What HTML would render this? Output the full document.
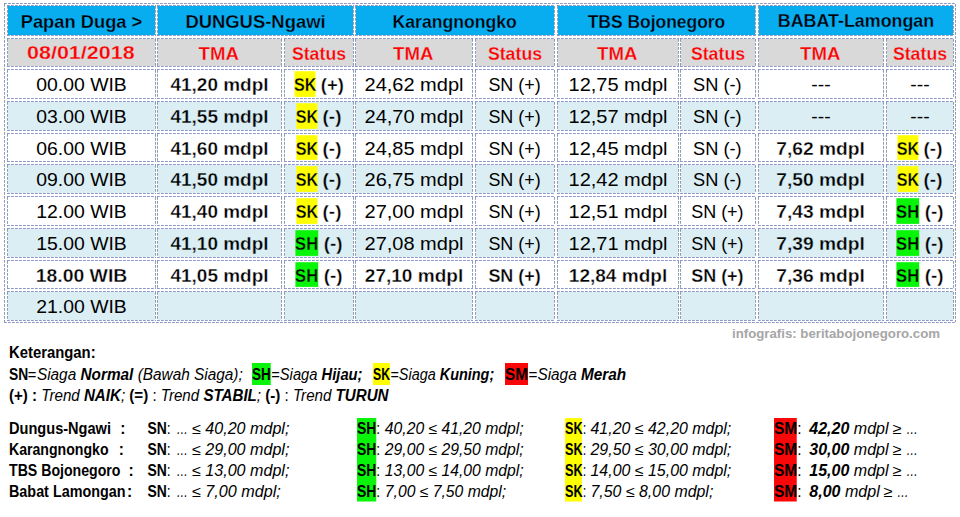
<!DOCTYPE html>
<html lang="id"><head><meta charset="utf-8"><title>Papan Duga TMA Bengawan Solo</title>
<style>
html,body{margin:0;padding:0;background:#fff;}
body{width:960px;height:517px;overflow:hidden;}
svg{display:block;font-family:"Liberation Sans",sans-serif;fill:#000;}
.bh,.bv{fill:none;stroke-width:1;stroke-dasharray:2.8 1.2;}
.bh{stroke:#8c97c6;} .bv{stroke:#8e9ab4;}
.t{font-size:17.9px;}
.h{font-size:18.4px;}
.b{font-weight:700;}
.t.b{stroke-width:0.3;stroke:#fff;}
.t.b.oB{stroke:#08adf0;} .t.b.oG{stroke:#d9d9d9;} .t.b.oL{stroke:#dbeef4;} .t.b.oY{stroke:#ffff00;} .t.b.oN{stroke:#08f408;}
.i{font-style:italic;}
.bi{font-weight:700;font-style:italic;}
.s{font-size:15.6px;}
.wm{font-size:13.4px;font-weight:700;fill:#a6a6a6;}
</style></head>
<body>
<svg width="960" height="517" viewBox="0 0 960 517">
<path class="bh" d="M4 3.5H956M4 322.5H956"/><path class="bv" d="M4.5 4V322M955.5 4V322"/>
<rect x="8.0" y="6.0" width="147.0" height="29.0" fill="#08adf0"/>
<path class="bh" d="M7.0 5.5H156.0M7.0 35.5H156.0"/><path class="bv" d="M7.5 6.0V35.0M155.5 6.0V35.0"/>
<rect x="158.0" y="6.0" width="195.0" height="29.0" fill="#08adf0"/>
<path class="bh" d="M157.0 5.5H354.0M157.0 35.5H354.0"/><path class="bv" d="M157.5 6.0V35.0M353.5 6.0V35.0"/>
<rect x="356.0" y="6.0" width="198.0" height="29.0" fill="#08adf0"/>
<path class="bh" d="M355.0 5.5H555.0M355.0 35.5H555.0"/><path class="bv" d="M355.5 6.0V35.0M554.5 6.0V35.0"/>
<rect x="558.0" y="6.0" width="197.0" height="29.0" fill="#08adf0"/>
<path class="bh" d="M557.0 5.5H756.0M557.0 35.5H756.0"/><path class="bv" d="M557.5 6.0V35.0M755.5 6.0V35.0"/>
<rect x="759.0" y="6.0" width="194.0" height="29.0" fill="#08adf0"/>
<path class="bh" d="M758.0 5.5H954.0M758.0 35.5H954.0"/><path class="bv" d="M758.5 6.0V35.0M953.5 6.0V35.0"/>
<rect x="8.0" y="39.0" width="147.0" height="27.0" fill="#d9d9d9"/>
<path class="bh" d="M7.0 38.5H156.0M7.0 66.5H156.0"/><path class="bv" d="M7.5 39.0V66.0M155.5 39.0V66.0"/>
<rect x="158.0" y="39.0" width="123.0" height="27.0" fill="#d9d9d9"/>
<path class="bh" d="M157.0 38.5H282.0M157.0 66.5H282.0"/><path class="bv" d="M157.5 39.0V66.0M281.5 39.0V66.0"/>
<rect x="285.0" y="39.0" width="68.0" height="27.0" fill="#d9d9d9"/>
<path class="bh" d="M284.0 38.5H354.0M284.0 66.5H354.0"/><path class="bv" d="M284.5 39.0V66.0M353.5 39.0V66.0"/>
<rect x="356.0" y="39.0" width="116.0" height="27.0" fill="#d9d9d9"/>
<path class="bh" d="M355.0 38.5H473.0M355.0 66.5H473.0"/><path class="bv" d="M355.5 39.0V66.0M472.5 39.0V66.0"/>
<rect x="476.0" y="39.0" width="78.0" height="27.0" fill="#d9d9d9"/>
<path class="bh" d="M475.0 38.5H555.0M475.0 66.5H555.0"/><path class="bv" d="M475.5 39.0V66.0M554.5 39.0V66.0"/>
<rect x="558.0" y="39.0" width="120.0" height="27.0" fill="#d9d9d9"/>
<path class="bh" d="M557.0 38.5H679.0M557.0 66.5H679.0"/><path class="bv" d="M557.5 39.0V66.0M678.5 39.0V66.0"/>
<rect x="681.0" y="39.0" width="74.0" height="27.0" fill="#d9d9d9"/>
<path class="bh" d="M680.0 38.5H756.0M680.0 66.5H756.0"/><path class="bv" d="M680.5 39.0V66.0M755.5 39.0V66.0"/>
<rect x="759.0" y="39.0" width="124.0" height="27.0" fill="#d9d9d9"/>
<path class="bh" d="M758.0 38.5H884.0M758.0 66.5H884.0"/><path class="bv" d="M758.5 39.0V66.0M883.5 39.0V66.0"/>
<rect x="887.0" y="39.0" width="66.0" height="27.0" fill="#d9d9d9"/>
<path class="bh" d="M886.0 38.5H954.0M886.0 66.5H954.0"/><path class="bv" d="M886.5 39.0V66.0M953.5 39.0V66.0"/>
<path class="bh" d="M7.0 69.5H156.0M7.0 98.5H156.0"/><path class="bv" d="M7.5 70.0V98.0M155.5 70.0V98.0"/>
<path class="bh" d="M157.0 69.5H282.0M157.0 98.5H282.0"/><path class="bv" d="M157.5 70.0V98.0M281.5 70.0V98.0"/>
<path class="bh" d="M284.0 69.5H354.0M284.0 98.5H354.0"/><path class="bv" d="M284.5 70.0V98.0M353.5 70.0V98.0"/>
<path class="bh" d="M355.0 69.5H473.0M355.0 98.5H473.0"/><path class="bv" d="M355.5 70.0V98.0M472.5 70.0V98.0"/>
<path class="bh" d="M475.0 69.5H555.0M475.0 98.5H555.0"/><path class="bv" d="M475.5 70.0V98.0M554.5 70.0V98.0"/>
<path class="bh" d="M557.0 69.5H679.0M557.0 98.5H679.0"/><path class="bv" d="M557.5 70.0V98.0M678.5 70.0V98.0"/>
<path class="bh" d="M680.0 69.5H756.0M680.0 98.5H756.0"/><path class="bv" d="M680.5 70.0V98.0M755.5 70.0V98.0"/>
<path class="bh" d="M758.0 69.5H884.0M758.0 98.5H884.0"/><path class="bv" d="M758.5 70.0V98.0M883.5 70.0V98.0"/>
<path class="bh" d="M886.0 69.5H954.0M886.0 98.5H954.0"/><path class="bv" d="M886.5 70.0V98.0M953.5 70.0V98.0"/>
<rect x="8.0" y="102.0" width="147.0" height="28.0" fill="#dbeef4"/>
<path class="bh" d="M7.0 101.5H156.0M7.0 130.5H156.0"/><path class="bv" d="M7.5 102.0V130.0M155.5 102.0V130.0"/>
<rect x="158.0" y="102.0" width="123.0" height="28.0" fill="#dbeef4"/>
<path class="bh" d="M157.0 101.5H282.0M157.0 130.5H282.0"/><path class="bv" d="M157.5 102.0V130.0M281.5 102.0V130.0"/>
<rect x="285.0" y="102.0" width="68.0" height="28.0" fill="#dbeef4"/>
<path class="bh" d="M284.0 101.5H354.0M284.0 130.5H354.0"/><path class="bv" d="M284.5 102.0V130.0M353.5 102.0V130.0"/>
<rect x="356.0" y="102.0" width="116.0" height="28.0" fill="#dbeef4"/>
<path class="bh" d="M355.0 101.5H473.0M355.0 130.5H473.0"/><path class="bv" d="M355.5 102.0V130.0M472.5 102.0V130.0"/>
<rect x="476.0" y="102.0" width="78.0" height="28.0" fill="#dbeef4"/>
<path class="bh" d="M475.0 101.5H555.0M475.0 130.5H555.0"/><path class="bv" d="M475.5 102.0V130.0M554.5 102.0V130.0"/>
<rect x="558.0" y="102.0" width="120.0" height="28.0" fill="#dbeef4"/>
<path class="bh" d="M557.0 101.5H679.0M557.0 130.5H679.0"/><path class="bv" d="M557.5 102.0V130.0M678.5 102.0V130.0"/>
<rect x="681.0" y="102.0" width="74.0" height="28.0" fill="#dbeef4"/>
<path class="bh" d="M680.0 101.5H756.0M680.0 130.5H756.0"/><path class="bv" d="M680.5 102.0V130.0M755.5 102.0V130.0"/>
<rect x="759.0" y="102.0" width="124.0" height="28.0" fill="#dbeef4"/>
<path class="bh" d="M758.0 101.5H884.0M758.0 130.5H884.0"/><path class="bv" d="M758.5 102.0V130.0M883.5 102.0V130.0"/>
<rect x="887.0" y="102.0" width="66.0" height="28.0" fill="#dbeef4"/>
<path class="bh" d="M886.0 101.5H954.0M886.0 130.5H954.0"/><path class="bv" d="M886.5 102.0V130.0M953.5 102.0V130.0"/>
<path class="bh" d="M7.0 133.5H156.0M7.0 161.5H156.0"/><path class="bv" d="M7.5 134.0V161.0M155.5 134.0V161.0"/>
<path class="bh" d="M157.0 133.5H282.0M157.0 161.5H282.0"/><path class="bv" d="M157.5 134.0V161.0M281.5 134.0V161.0"/>
<path class="bh" d="M284.0 133.5H354.0M284.0 161.5H354.0"/><path class="bv" d="M284.5 134.0V161.0M353.5 134.0V161.0"/>
<path class="bh" d="M355.0 133.5H473.0M355.0 161.5H473.0"/><path class="bv" d="M355.5 134.0V161.0M472.5 134.0V161.0"/>
<path class="bh" d="M475.0 133.5H555.0M475.0 161.5H555.0"/><path class="bv" d="M475.5 134.0V161.0M554.5 134.0V161.0"/>
<path class="bh" d="M557.0 133.5H679.0M557.0 161.5H679.0"/><path class="bv" d="M557.5 134.0V161.0M678.5 134.0V161.0"/>
<path class="bh" d="M680.0 133.5H756.0M680.0 161.5H756.0"/><path class="bv" d="M680.5 134.0V161.0M755.5 134.0V161.0"/>
<path class="bh" d="M758.0 133.5H884.0M758.0 161.5H884.0"/><path class="bv" d="M758.5 134.0V161.0M883.5 134.0V161.0"/>
<path class="bh" d="M886.0 133.5H954.0M886.0 161.5H954.0"/><path class="bv" d="M886.5 134.0V161.0M953.5 134.0V161.0"/>
<rect x="8.0" y="165.0" width="147.0" height="28.0" fill="#dbeef4"/>
<path class="bh" d="M7.0 164.5H156.0M7.0 193.5H156.0"/><path class="bv" d="M7.5 165.0V193.0M155.5 165.0V193.0"/>
<rect x="158.0" y="165.0" width="123.0" height="28.0" fill="#dbeef4"/>
<path class="bh" d="M157.0 164.5H282.0M157.0 193.5H282.0"/><path class="bv" d="M157.5 165.0V193.0M281.5 165.0V193.0"/>
<rect x="285.0" y="165.0" width="68.0" height="28.0" fill="#dbeef4"/>
<path class="bh" d="M284.0 164.5H354.0M284.0 193.5H354.0"/><path class="bv" d="M284.5 165.0V193.0M353.5 165.0V193.0"/>
<rect x="356.0" y="165.0" width="116.0" height="28.0" fill="#dbeef4"/>
<path class="bh" d="M355.0 164.5H473.0M355.0 193.5H473.0"/><path class="bv" d="M355.5 165.0V193.0M472.5 165.0V193.0"/>
<rect x="476.0" y="165.0" width="78.0" height="28.0" fill="#dbeef4"/>
<path class="bh" d="M475.0 164.5H555.0M475.0 193.5H555.0"/><path class="bv" d="M475.5 165.0V193.0M554.5 165.0V193.0"/>
<rect x="558.0" y="165.0" width="120.0" height="28.0" fill="#dbeef4"/>
<path class="bh" d="M557.0 164.5H679.0M557.0 193.5H679.0"/><path class="bv" d="M557.5 165.0V193.0M678.5 165.0V193.0"/>
<rect x="681.0" y="165.0" width="74.0" height="28.0" fill="#dbeef4"/>
<path class="bh" d="M680.0 164.5H756.0M680.0 193.5H756.0"/><path class="bv" d="M680.5 165.0V193.0M755.5 165.0V193.0"/>
<rect x="759.0" y="165.0" width="124.0" height="28.0" fill="#dbeef4"/>
<path class="bh" d="M758.0 164.5H884.0M758.0 193.5H884.0"/><path class="bv" d="M758.5 165.0V193.0M883.5 165.0V193.0"/>
<rect x="887.0" y="165.0" width="66.0" height="28.0" fill="#dbeef4"/>
<path class="bh" d="M886.0 164.5H954.0M886.0 193.5H954.0"/><path class="bv" d="M886.5 165.0V193.0M953.5 165.0V193.0"/>
<path class="bh" d="M7.0 196.5H156.0M7.0 225.5H156.0"/><path class="bv" d="M7.5 197.0V225.0M155.5 197.0V225.0"/>
<path class="bh" d="M157.0 196.5H282.0M157.0 225.5H282.0"/><path class="bv" d="M157.5 197.0V225.0M281.5 197.0V225.0"/>
<path class="bh" d="M284.0 196.5H354.0M284.0 225.5H354.0"/><path class="bv" d="M284.5 197.0V225.0M353.5 197.0V225.0"/>
<path class="bh" d="M355.0 196.5H473.0M355.0 225.5H473.0"/><path class="bv" d="M355.5 197.0V225.0M472.5 197.0V225.0"/>
<path class="bh" d="M475.0 196.5H555.0M475.0 225.5H555.0"/><path class="bv" d="M475.5 197.0V225.0M554.5 197.0V225.0"/>
<path class="bh" d="M557.0 196.5H679.0M557.0 225.5H679.0"/><path class="bv" d="M557.5 197.0V225.0M678.5 197.0V225.0"/>
<path class="bh" d="M680.0 196.5H756.0M680.0 225.5H756.0"/><path class="bv" d="M680.5 197.0V225.0M755.5 197.0V225.0"/>
<path class="bh" d="M758.0 196.5H884.0M758.0 225.5H884.0"/><path class="bv" d="M758.5 197.0V225.0M883.5 197.0V225.0"/>
<path class="bh" d="M886.0 196.5H954.0M886.0 225.5H954.0"/><path class="bv" d="M886.5 197.0V225.0M953.5 197.0V225.0"/>
<rect x="8.0" y="229.0" width="147.0" height="28.0" fill="#dbeef4"/>
<path class="bh" d="M7.0 228.5H156.0M7.0 257.5H156.0"/><path class="bv" d="M7.5 229.0V257.0M155.5 229.0V257.0"/>
<rect x="158.0" y="229.0" width="123.0" height="28.0" fill="#dbeef4"/>
<path class="bh" d="M157.0 228.5H282.0M157.0 257.5H282.0"/><path class="bv" d="M157.5 229.0V257.0M281.5 229.0V257.0"/>
<rect x="285.0" y="229.0" width="68.0" height="28.0" fill="#dbeef4"/>
<path class="bh" d="M284.0 228.5H354.0M284.0 257.5H354.0"/><path class="bv" d="M284.5 229.0V257.0M353.5 229.0V257.0"/>
<rect x="356.0" y="229.0" width="116.0" height="28.0" fill="#dbeef4"/>
<path class="bh" d="M355.0 228.5H473.0M355.0 257.5H473.0"/><path class="bv" d="M355.5 229.0V257.0M472.5 229.0V257.0"/>
<rect x="476.0" y="229.0" width="78.0" height="28.0" fill="#dbeef4"/>
<path class="bh" d="M475.0 228.5H555.0M475.0 257.5H555.0"/><path class="bv" d="M475.5 229.0V257.0M554.5 229.0V257.0"/>
<rect x="558.0" y="229.0" width="120.0" height="28.0" fill="#dbeef4"/>
<path class="bh" d="M557.0 228.5H679.0M557.0 257.5H679.0"/><path class="bv" d="M557.5 229.0V257.0M678.5 229.0V257.0"/>
<rect x="681.0" y="229.0" width="74.0" height="28.0" fill="#dbeef4"/>
<path class="bh" d="M680.0 228.5H756.0M680.0 257.5H756.0"/><path class="bv" d="M680.5 229.0V257.0M755.5 229.0V257.0"/>
<rect x="759.0" y="229.0" width="124.0" height="28.0" fill="#dbeef4"/>
<path class="bh" d="M758.0 228.5H884.0M758.0 257.5H884.0"/><path class="bv" d="M758.5 229.0V257.0M883.5 229.0V257.0"/>
<rect x="887.0" y="229.0" width="66.0" height="28.0" fill="#dbeef4"/>
<path class="bh" d="M886.0 228.5H954.0M886.0 257.5H954.0"/><path class="bv" d="M886.5 229.0V257.0M953.5 229.0V257.0"/>
<path class="bh" d="M7.0 260.5H156.0M7.0 288.5H156.0"/><path class="bv" d="M7.5 261.0V288.0M155.5 261.0V288.0"/>
<path class="bh" d="M157.0 260.5H282.0M157.0 288.5H282.0"/><path class="bv" d="M157.5 261.0V288.0M281.5 261.0V288.0"/>
<path class="bh" d="M284.0 260.5H354.0M284.0 288.5H354.0"/><path class="bv" d="M284.5 261.0V288.0M353.5 261.0V288.0"/>
<path class="bh" d="M355.0 260.5H473.0M355.0 288.5H473.0"/><path class="bv" d="M355.5 261.0V288.0M472.5 261.0V288.0"/>
<path class="bh" d="M475.0 260.5H555.0M475.0 288.5H555.0"/><path class="bv" d="M475.5 261.0V288.0M554.5 261.0V288.0"/>
<path class="bh" d="M557.0 260.5H679.0M557.0 288.5H679.0"/><path class="bv" d="M557.5 261.0V288.0M678.5 261.0V288.0"/>
<path class="bh" d="M680.0 260.5H756.0M680.0 288.5H756.0"/><path class="bv" d="M680.5 261.0V288.0M755.5 261.0V288.0"/>
<path class="bh" d="M758.0 260.5H884.0M758.0 288.5H884.0"/><path class="bv" d="M758.5 261.0V288.0M883.5 261.0V288.0"/>
<path class="bh" d="M886.0 260.5H954.0M886.0 288.5H954.0"/><path class="bv" d="M886.5 261.0V288.0M953.5 261.0V288.0"/>
<rect x="8.0" y="292.0" width="147.0" height="28.0" fill="#dbeef4"/>
<path class="bh" d="M7.0 291.5H156.0M7.0 320.5H156.0"/><path class="bv" d="M7.5 292.0V320.0M155.5 292.0V320.0"/>
<rect x="158.0" y="292.0" width="123.0" height="28.0" fill="#dbeef4"/>
<path class="bh" d="M157.0 291.5H282.0M157.0 320.5H282.0"/><path class="bv" d="M157.5 292.0V320.0M281.5 292.0V320.0"/>
<rect x="285.0" y="292.0" width="68.0" height="28.0" fill="#dbeef4"/>
<path class="bh" d="M284.0 291.5H354.0M284.0 320.5H354.0"/><path class="bv" d="M284.5 292.0V320.0M353.5 292.0V320.0"/>
<rect x="356.0" y="292.0" width="116.0" height="28.0" fill="#dbeef4"/>
<path class="bh" d="M355.0 291.5H473.0M355.0 320.5H473.0"/><path class="bv" d="M355.5 292.0V320.0M472.5 292.0V320.0"/>
<rect x="476.0" y="292.0" width="78.0" height="28.0" fill="#dbeef4"/>
<path class="bh" d="M475.0 291.5H555.0M475.0 320.5H555.0"/><path class="bv" d="M475.5 292.0V320.0M554.5 292.0V320.0"/>
<rect x="558.0" y="292.0" width="120.0" height="28.0" fill="#dbeef4"/>
<path class="bh" d="M557.0 291.5H679.0M557.0 320.5H679.0"/><path class="bv" d="M557.5 292.0V320.0M678.5 292.0V320.0"/>
<rect x="681.0" y="292.0" width="74.0" height="28.0" fill="#dbeef4"/>
<path class="bh" d="M680.0 291.5H756.0M680.0 320.5H756.0"/><path class="bv" d="M680.5 292.0V320.0M755.5 292.0V320.0"/>
<rect x="759.0" y="292.0" width="124.0" height="28.0" fill="#dbeef4"/>
<path class="bh" d="M758.0 291.5H884.0M758.0 320.5H884.0"/><path class="bv" d="M758.5 292.0V320.0M883.5 292.0V320.0"/>
<rect x="887.0" y="292.0" width="66.0" height="28.0" fill="#dbeef4"/>
<path class="bh" d="M886.0 291.5H954.0M886.0 320.5H954.0"/><path class="bv" d="M886.5 292.0V320.0M953.5 292.0V320.0"/>
<text class="t b h oB" x="81.50" y="27.70" text-anchor="middle" textLength="121.6" lengthAdjust="spacingAndGlyphs">Papan Duga &gt;</text>
<text class="t b h oB" x="255.50" y="27.70" text-anchor="middle" textLength="140.2" lengthAdjust="spacingAndGlyphs">DUNGUS-Ngawi</text>
<text class="t b h oB" x="454.70" y="27.70" text-anchor="middle" textLength="124.4" lengthAdjust="spacingAndGlyphs">Karangnongko</text>
<text class="t b h oB" x="656.50" y="27.70" text-anchor="middle" textLength="137.6" lengthAdjust="spacingAndGlyphs">TBS Bojonegoro</text>
<text class="t b h oB" x="856.00" y="26.70" text-anchor="middle" textLength="156.4" lengthAdjust="spacingAndGlyphs">BABAT-Lamongan</text>
<text class="t b h oG" x="80.80" y="59.40" text-anchor="middle" textLength="107.6" lengthAdjust="spacingAndGlyphs" fill="#ff0000">08/01/2018</text>
<text class="t b h oG" x="218.70" y="59.70" text-anchor="middle" textLength="40.4" lengthAdjust="spacingAndGlyphs" fill="#ff0000">TMA</text>
<text class="t b h oG" x="319.00" y="59.70" text-anchor="middle" textLength="54.2" lengthAdjust="spacingAndGlyphs" fill="#ff0000">Status</text>
<text class="t b h oG" x="413.20" y="59.70" text-anchor="middle" textLength="40.4" lengthAdjust="spacingAndGlyphs" fill="#ff0000">TMA</text>
<text class="t b h oG" x="515.00" y="59.70" text-anchor="middle" textLength="54.2" lengthAdjust="spacingAndGlyphs" fill="#ff0000">Status</text>
<text class="t b h oG" x="617.20" y="59.70" text-anchor="middle" textLength="40.4" lengthAdjust="spacingAndGlyphs" fill="#ff0000">TMA</text>
<text class="t b h oG" x="718.00" y="59.70" text-anchor="middle" textLength="54.2" lengthAdjust="spacingAndGlyphs" fill="#ff0000">Status</text>
<text class="t b h oG" x="820.20" y="59.70" text-anchor="middle" textLength="40.4" lengthAdjust="spacingAndGlyphs" fill="#ff0000">TMA</text>
<text class="t b h oG" x="920.00" y="59.70" text-anchor="middle" textLength="54.2" lengthAdjust="spacingAndGlyphs" fill="#ff0000">Status</text>
<text class="t " x="81.50" y="90.70" text-anchor="middle" textLength="90.6" lengthAdjust="spacingAndGlyphs">00.00 WIB</text>
<text class="t b" x="219.50" y="90.70" text-anchor="middle" textLength="98" lengthAdjust="spacingAndGlyphs">41,20 mdpl</text>
<rect x="294.50" y="71.20" width="21.00" height="25.70" fill="#ffff00"/>
<text class="t b oY" x="293.90" y="90.70" textLength="22.40" lengthAdjust="spacingAndGlyphs">SK</text>
<text class="t b" x="320.80" y="90.70" textLength="23.00" lengthAdjust="spacingAndGlyphs">(+)</text>
<text class="t " x="414.00" y="90.70" text-anchor="middle" textLength="99" lengthAdjust="spacingAndGlyphs">24,62 mdpl</text>
<text class="t " x="514.60" y="90.70" text-anchor="middle" textLength="52.4" lengthAdjust="spacingAndGlyphs">SN (+)</text>
<text class="t " x="618.00" y="90.70" text-anchor="middle" textLength="99" lengthAdjust="spacingAndGlyphs">12,75 mdpl</text>
<text class="t " x="717.40" y="90.70" text-anchor="middle" textLength="48.6" lengthAdjust="spacingAndGlyphs">SN (-)</text>
<text class="t " x="821.00" y="91.40" text-anchor="middle" textLength="19.4" lengthAdjust="spacingAndGlyphs">---</text>
<text class="t " x="920.00" y="91.40" text-anchor="middle" textLength="19.4" lengthAdjust="spacingAndGlyphs">---</text>
<text class="t  oL" x="81.50" y="122.70" text-anchor="middle" textLength="90.6" lengthAdjust="spacingAndGlyphs">03.00 WIB</text>
<text class="t b oL" x="219.50" y="122.70" text-anchor="middle" textLength="98" lengthAdjust="spacingAndGlyphs">41,55 mdpl</text>
<rect x="296.40" y="103.20" width="21.00" height="25.70" fill="#ffff00"/>
<text class="t b oY" x="295.80" y="122.70" textLength="22.40" lengthAdjust="spacingAndGlyphs">SK</text>
<text class="t b oL" x="322.60" y="122.70" textLength="18.80" lengthAdjust="spacingAndGlyphs">(-)</text>
<text class="t  oL" x="414.00" y="122.70" text-anchor="middle" textLength="99" lengthAdjust="spacingAndGlyphs">24,70 mdpl</text>
<text class="t  oL" x="514.60" y="122.70" text-anchor="middle" textLength="52.4" lengthAdjust="spacingAndGlyphs">SN (+)</text>
<text class="t  oL" x="618.00" y="122.70" text-anchor="middle" textLength="99" lengthAdjust="spacingAndGlyphs">12,57 mdpl</text>
<text class="t  oL" x="717.40" y="122.70" text-anchor="middle" textLength="48.6" lengthAdjust="spacingAndGlyphs">SN (-)</text>
<text class="t  oL" x="821.00" y="123.40" text-anchor="middle" textLength="19.4" lengthAdjust="spacingAndGlyphs">---</text>
<text class="t  oL" x="920.00" y="123.40" text-anchor="middle" textLength="19.4" lengthAdjust="spacingAndGlyphs">---</text>
<text class="t " x="81.50" y="154.70" text-anchor="middle" textLength="90.6" lengthAdjust="spacingAndGlyphs">06.00 WIB</text>
<text class="t b" x="219.50" y="154.70" text-anchor="middle" textLength="98" lengthAdjust="spacingAndGlyphs">41,60 mdpl</text>
<rect x="296.40" y="135.20" width="21.00" height="24.70" fill="#ffff00"/>
<text class="t b oY" x="295.80" y="154.70" textLength="22.40" lengthAdjust="spacingAndGlyphs">SK</text>
<text class="t b" x="322.60" y="154.70" textLength="18.80" lengthAdjust="spacingAndGlyphs">(-)</text>
<text class="t " x="414.00" y="154.70" text-anchor="middle" textLength="99" lengthAdjust="spacingAndGlyphs">24,85 mdpl</text>
<text class="t " x="514.60" y="154.70" text-anchor="middle" textLength="52.4" lengthAdjust="spacingAndGlyphs">SN (+)</text>
<text class="t " x="618.00" y="154.70" text-anchor="middle" textLength="99" lengthAdjust="spacingAndGlyphs">12,45 mdpl</text>
<text class="t " x="717.40" y="154.70" text-anchor="middle" textLength="48.6" lengthAdjust="spacingAndGlyphs">SN (-)</text>
<text class="t b" x="820.60" y="154.70" text-anchor="middle" textLength="88.6" lengthAdjust="spacingAndGlyphs">7,62 mdpl</text>
<rect x="897.40" y="135.20" width="21.00" height="24.70" fill="#ffff00"/>
<text class="t b oY" x="896.80" y="154.70" textLength="22.40" lengthAdjust="spacingAndGlyphs">SK</text>
<text class="t b" x="923.60" y="154.70" textLength="18.80" lengthAdjust="spacingAndGlyphs">(-)</text>
<text class="t  oL" x="81.50" y="185.70" text-anchor="middle" textLength="90.6" lengthAdjust="spacingAndGlyphs">09.00 WIB</text>
<text class="t b oL" x="219.50" y="185.70" text-anchor="middle" textLength="98" lengthAdjust="spacingAndGlyphs">41,50 mdpl</text>
<rect x="296.40" y="166.20" width="21.00" height="25.70" fill="#ffff00"/>
<text class="t b oY" x="295.80" y="185.70" textLength="22.40" lengthAdjust="spacingAndGlyphs">SK</text>
<text class="t b oL" x="322.60" y="185.70" textLength="18.80" lengthAdjust="spacingAndGlyphs">(-)</text>
<text class="t  oL" x="414.00" y="185.70" text-anchor="middle" textLength="99" lengthAdjust="spacingAndGlyphs">26,75 mdpl</text>
<text class="t  oL" x="514.60" y="185.70" text-anchor="middle" textLength="52.4" lengthAdjust="spacingAndGlyphs">SN (+)</text>
<text class="t  oL" x="618.00" y="185.70" text-anchor="middle" textLength="99" lengthAdjust="spacingAndGlyphs">12,42 mdpl</text>
<text class="t  oL" x="717.40" y="185.70" text-anchor="middle" textLength="48.6" lengthAdjust="spacingAndGlyphs">SN (-)</text>
<text class="t b oL" x="820.60" y="185.70" text-anchor="middle" textLength="88.6" lengthAdjust="spacingAndGlyphs">7,50 mdpl</text>
<rect x="897.40" y="166.20" width="21.00" height="25.70" fill="#ffff00"/>
<text class="t b oY" x="896.80" y="185.70" textLength="22.40" lengthAdjust="spacingAndGlyphs">SK</text>
<text class="t b oL" x="923.60" y="185.70" textLength="18.80" lengthAdjust="spacingAndGlyphs">(-)</text>
<text class="t " x="81.50" y="217.70" text-anchor="middle" textLength="90.6" lengthAdjust="spacingAndGlyphs">12.00 WIB</text>
<text class="t b" x="219.50" y="217.70" text-anchor="middle" textLength="98" lengthAdjust="spacingAndGlyphs">41,40 mdpl</text>
<rect x="296.40" y="198.20" width="21.00" height="25.70" fill="#ffff00"/>
<text class="t b oY" x="295.80" y="217.70" textLength="22.40" lengthAdjust="spacingAndGlyphs">SK</text>
<text class="t b" x="322.60" y="217.70" textLength="18.80" lengthAdjust="spacingAndGlyphs">(-)</text>
<text class="t " x="414.00" y="217.70" text-anchor="middle" textLength="99" lengthAdjust="spacingAndGlyphs">27,00 mdpl</text>
<text class="t " x="514.60" y="217.70" text-anchor="middle" textLength="52.4" lengthAdjust="spacingAndGlyphs">SN (+)</text>
<text class="t " x="618.00" y="217.70" text-anchor="middle" textLength="99" lengthAdjust="spacingAndGlyphs">12,51 mdpl</text>
<text class="t " x="717.40" y="217.70" text-anchor="middle" textLength="52.4" lengthAdjust="spacingAndGlyphs">SN (+)</text>
<text class="t b" x="820.60" y="217.70" text-anchor="middle" textLength="88.6" lengthAdjust="spacingAndGlyphs">7,43 mdpl</text>
<rect x="896.40" y="198.20" width="22.80" height="25.70" fill="#08f408"/>
<text class="t b oN" x="896.10" y="217.70" textLength="23.00" lengthAdjust="spacingAndGlyphs">SH</text>
<text class="t b" x="924.80" y="217.70" textLength="18.80" lengthAdjust="spacingAndGlyphs">(-)</text>
<text class="t  oL" x="81.50" y="249.70" text-anchor="middle" textLength="90.6" lengthAdjust="spacingAndGlyphs">15.00 WIB</text>
<text class="t b oL" x="219.50" y="249.70" text-anchor="middle" textLength="98" lengthAdjust="spacingAndGlyphs">41,10 mdpl</text>
<rect x="295.40" y="230.20" width="22.80" height="25.70" fill="#08f408"/>
<text class="t b oN" x="295.10" y="249.70" textLength="23.00" lengthAdjust="spacingAndGlyphs">SH</text>
<text class="t b oL" x="323.80" y="249.70" textLength="18.80" lengthAdjust="spacingAndGlyphs">(-)</text>
<text class="t  oL" x="414.00" y="249.70" text-anchor="middle" textLength="99" lengthAdjust="spacingAndGlyphs">27,08 mdpl</text>
<text class="t  oL" x="514.60" y="249.70" text-anchor="middle" textLength="52.4" lengthAdjust="spacingAndGlyphs">SN (+)</text>
<text class="t  oL" x="618.00" y="249.70" text-anchor="middle" textLength="99" lengthAdjust="spacingAndGlyphs">12,71 mdpl</text>
<text class="t  oL" x="717.40" y="249.70" text-anchor="middle" textLength="52.4" lengthAdjust="spacingAndGlyphs">SN (+)</text>
<text class="t b oL" x="820.60" y="249.70" text-anchor="middle" textLength="88.6" lengthAdjust="spacingAndGlyphs">7,39 mdpl</text>
<rect x="896.40" y="230.20" width="22.80" height="25.70" fill="#08f408"/>
<text class="t b oN" x="896.10" y="249.70" textLength="23.00" lengthAdjust="spacingAndGlyphs">SH</text>
<text class="t b oL" x="924.80" y="249.70" textLength="18.80" lengthAdjust="spacingAndGlyphs">(-)</text>
<text class="t b" x="81.50" y="281.70" text-anchor="middle" textLength="91.6" lengthAdjust="spacingAndGlyphs">18.00 WIB</text>
<text class="t b" x="219.50" y="281.70" text-anchor="middle" textLength="98" lengthAdjust="spacingAndGlyphs">41,05 mdpl</text>
<rect x="295.40" y="262.20" width="22.80" height="24.70" fill="#08f408"/>
<text class="t b oN" x="295.10" y="281.70" textLength="23.00" lengthAdjust="spacingAndGlyphs">SH</text>
<text class="t b" x="323.80" y="281.70" textLength="18.80" lengthAdjust="spacingAndGlyphs">(-)</text>
<text class="t b" x="414.00" y="281.70" text-anchor="middle" textLength="98.4" lengthAdjust="spacingAndGlyphs">27,10 mdpl</text>
<text class="t b" x="514.60" y="281.70" text-anchor="middle" textLength="52.4" lengthAdjust="spacingAndGlyphs">SN (+)</text>
<text class="t b" x="618.00" y="281.70" text-anchor="middle" textLength="98.4" lengthAdjust="spacingAndGlyphs">12,84 mdpl</text>
<text class="t b" x="717.40" y="281.70" text-anchor="middle" textLength="52.4" lengthAdjust="spacingAndGlyphs">SN (+)</text>
<text class="t b" x="820.60" y="281.70" text-anchor="middle" textLength="88.6" lengthAdjust="spacingAndGlyphs">7,36 mdpl</text>
<rect x="896.40" y="262.20" width="22.80" height="24.70" fill="#08f408"/>
<text class="t b oN" x="896.10" y="281.70" textLength="23.00" lengthAdjust="spacingAndGlyphs">SH</text>
<text class="t b" x="924.80" y="281.70" textLength="18.80" lengthAdjust="spacingAndGlyphs">(-)</text>
<text class="t  oL" x="81.50" y="312.70" text-anchor="middle" textLength="90.6" lengthAdjust="spacingAndGlyphs">21.00 WIB</text>
<text class="wm" x="732.00" y="338.00" textLength="208" lengthAdjust="spacingAndGlyphs">infografis: beritabojonegoro.com</text>
<text class="s b" x="9.00" y="357.80" textLength="86.6" lengthAdjust="spacingAndGlyphs">Keterangan:</text>
<rect x="252.00" y="363.00" width="18.75" height="22.00" fill="#08f408"/>
<rect x="373.00" y="363.00" width="17.00" height="22.00" fill="#ffff00"/>
<rect x="505.00" y="363.00" width="23.00" height="22.00" fill="#f80808"/>
<text class="s b" x="9.00" y="379.75" textLength="19.2" lengthAdjust="spacingAndGlyphs">SN</text>
<text class="s" x="27.80" y="379.75" textLength="8.6" lengthAdjust="spacingAndGlyphs">=</text>
<text class="s" x="36.90" y="379.75" textLength="205.8" lengthAdjust="spacingAndGlyphs"><tspan class="i">Siaga </tspan><tspan class="bi">Normal</tspan><tspan class="i"> (Bawah Siaga);</tspan></text>
<text class="s b oN" x="252.00" y="379.75" textLength="18.75" lengthAdjust="spacingAndGlyphs">SH</text>
<text class="s" x="271.20" y="379.75" textLength="91.3" lengthAdjust="spacingAndGlyphs">=<tspan class="i">Siaga </tspan><tspan class="bi">Hijau;</tspan></text>
<text class="s b oY" x="373.00" y="379.75" textLength="17" lengthAdjust="spacingAndGlyphs">SK</text>
<text class="s" x="390.40" y="379.75" textLength="103.8" lengthAdjust="spacingAndGlyphs">=<tspan class="i">Siaga </tspan><tspan class="bi">Kuning;</tspan></text>
<text class="s b oR" x="505.00" y="379.75" textLength="23" lengthAdjust="spacingAndGlyphs">SM</text>
<text class="s" x="528.50" y="379.75" textLength="97.6" lengthAdjust="spacingAndGlyphs">=<tspan class="i">Siaga </tspan><tspan class="bi">Merah</tspan></text>
<text class="s" x="9.00" y="401.00" textLength="379.5" lengthAdjust="spacingAndGlyphs"><tspan class="b">(+) :</tspan><tspan class="i"> Trend </tspan><tspan class="bi">NAIK</tspan><tspan class="i">; </tspan><tspan class="b">(=)</tspan> : <tspan class="i">Trend </tspan><tspan class="bi">STABIL</tspan><tspan class="i">; </tspan><tspan class="b">(-)</tspan> : <tspan class="i">Trend </tspan><tspan class="bi">TURUN</tspan></text>
<rect x="357.00" y="418.00" width="19.25" height="83.50" fill="#08f408"/>
<rect x="565.00" y="418.00" width="17.00" height="83.50" fill="#ffff00"/>
<rect x="774.00" y="418.00" width="22.75" height="83.50" fill="#f80808"/>
<text class="s b" x="9.00" y="434.30" textLength="102" lengthAdjust="spacingAndGlyphs">Dungus-Ngawi</text>
<text class="s b" x="120.20" y="434.30">:</text>
<text class="s" x="147.50" y="434.30" textLength="23.2" lengthAdjust="spacingAndGlyphs"><tspan class="b">SN</tspan>:</text>
<text class="s i" x="176.40" y="434.30" textLength="11.4" lengthAdjust="spacingAndGlyphs">…</text>
<text class="s i" x="192.00" y="434.30" textLength="97.4" lengthAdjust="spacingAndGlyphs">≤ 40,20 mdpl;</text>
<text class="s" x="357.00" y="434.30" textLength="23.2" lengthAdjust="spacingAndGlyphs"><tspan class="b oN">SH</tspan>:</text>
<text class="s i" x="384.80" y="434.30" textLength="138.8" lengthAdjust="spacingAndGlyphs">40,20 ≤ 41,20 mdpl;</text>
<text class="s" x="565.00" y="434.30" textLength="21.2" lengthAdjust="spacingAndGlyphs"><tspan class="b oY">SK</tspan>:</text>
<text class="s i" x="590.50" y="434.30" textLength="140.8" lengthAdjust="spacingAndGlyphs">41,20 ≤ 42,20 mdpl;</text>
<text class="s" x="774.00" y="434.30" textLength="27.6" lengthAdjust="spacingAndGlyphs"><tspan class="b oR">SM</tspan>:</text>
<text class="s i" x="809.30" y="434.30" textLength="79.3" lengthAdjust="spacingAndGlyphs"><tspan class="bi">42,20</tspan> mdpl</text>
<text class="s i" x="892.60" y="434.30" textLength="9" lengthAdjust="spacingAndGlyphs">≥</text>
<text class="s i" x="906.30" y="434.30" textLength="11.6" lengthAdjust="spacingAndGlyphs">…</text>
<text class="s b" x="9.00" y="455.15" textLength="99.5" lengthAdjust="spacingAndGlyphs">Karangnongko</text>
<text class="s b" x="118.70" y="455.15">:</text>
<text class="s" x="147.50" y="455.15" textLength="23.2" lengthAdjust="spacingAndGlyphs"><tspan class="b">SN</tspan>:</text>
<text class="s i" x="176.40" y="455.15" textLength="11.4" lengthAdjust="spacingAndGlyphs">…</text>
<text class="s i" x="192.00" y="455.15" textLength="97.4" lengthAdjust="spacingAndGlyphs">≤ 29,00 mdpl;</text>
<text class="s" x="357.00" y="455.15" textLength="23.2" lengthAdjust="spacingAndGlyphs"><tspan class="b oN">SH</tspan>:</text>
<text class="s i" x="384.80" y="455.15" textLength="138.8" lengthAdjust="spacingAndGlyphs">29,00 ≤ 29,50 mdpl;</text>
<text class="s" x="565.00" y="455.15" textLength="21.2" lengthAdjust="spacingAndGlyphs"><tspan class="b oY">SK</tspan>:</text>
<text class="s i" x="590.50" y="455.15" textLength="140.8" lengthAdjust="spacingAndGlyphs">29,50 ≤ 30,00 mdpl;</text>
<text class="s" x="774.00" y="455.15" textLength="27.6" lengthAdjust="spacingAndGlyphs"><tspan class="b oR">SM</tspan>:</text>
<text class="s i" x="809.30" y="455.15" textLength="79.3" lengthAdjust="spacingAndGlyphs"><tspan class="bi">30,00</tspan> mdpl</text>
<text class="s i" x="892.60" y="455.15" textLength="9" lengthAdjust="spacingAndGlyphs">≥</text>
<text class="s i" x="906.30" y="455.15" textLength="11.6" lengthAdjust="spacingAndGlyphs">…</text>
<text class="s b" x="9.00" y="476.00" textLength="111.5" lengthAdjust="spacingAndGlyphs">TBS Bojonegoro</text>
<text class="s b" x="128.45" y="476.00">:</text>
<text class="s" x="147.50" y="476.00" textLength="23.2" lengthAdjust="spacingAndGlyphs"><tspan class="b">SN</tspan>:</text>
<text class="s i" x="176.40" y="476.00" textLength="11.4" lengthAdjust="spacingAndGlyphs">…</text>
<text class="s i" x="192.00" y="476.00" textLength="97.4" lengthAdjust="spacingAndGlyphs">≤ 13,00 mdpl;</text>
<text class="s" x="357.00" y="476.00" textLength="23.2" lengthAdjust="spacingAndGlyphs"><tspan class="b oN">SH</tspan>:</text>
<text class="s i" x="384.80" y="476.00" textLength="138.8" lengthAdjust="spacingAndGlyphs">13,00 ≤ 14,00 mdpl;</text>
<text class="s" x="565.00" y="476.00" textLength="21.2" lengthAdjust="spacingAndGlyphs"><tspan class="b oY">SK</tspan>:</text>
<text class="s i" x="590.50" y="476.00" textLength="140.8" lengthAdjust="spacingAndGlyphs">14,00 ≤ 15,00 mdpl;</text>
<text class="s" x="774.00" y="476.00" textLength="27.6" lengthAdjust="spacingAndGlyphs"><tspan class="b oR">SM</tspan>:</text>
<text class="s i" x="809.30" y="476.00" textLength="79.3" lengthAdjust="spacingAndGlyphs"><tspan class="bi">15,00</tspan> mdpl</text>
<text class="s i" x="892.60" y="476.00" textLength="9" lengthAdjust="spacingAndGlyphs">≥</text>
<text class="s i" x="906.30" y="476.00" textLength="11.6" lengthAdjust="spacingAndGlyphs">…</text>
<text class="s b" x="9.00" y="496.85" textLength="116.5" lengthAdjust="spacingAndGlyphs">Babat Lamongan</text>
<text class="s b" x="126.90" y="496.85">:</text>
<text class="s" x="147.50" y="496.85" textLength="23.2" lengthAdjust="spacingAndGlyphs"><tspan class="b">SN</tspan>:</text>
<text class="s i" x="176.40" y="496.85" textLength="11.4" lengthAdjust="spacingAndGlyphs">…</text>
<text class="s i" x="192.00" y="496.85" textLength="88.8" lengthAdjust="spacingAndGlyphs">≤ 7,00 mdpl;</text>
<text class="s" x="357.00" y="496.85" textLength="23.2" lengthAdjust="spacingAndGlyphs"><tspan class="b oN">SH</tspan>:</text>
<text class="s i" x="384.80" y="496.85" textLength="121.3" lengthAdjust="spacingAndGlyphs">7,00 ≤ 7,50 mdpl;</text>
<text class="s" x="565.00" y="496.85" textLength="21.2" lengthAdjust="spacingAndGlyphs"><tspan class="b oY">SK</tspan>:</text>
<text class="s i" x="590.50" y="496.85" textLength="122.8" lengthAdjust="spacingAndGlyphs">7,50 ≤ 8,00 mdpl;</text>
<text class="s" x="774.00" y="496.85" textLength="27.6" lengthAdjust="spacingAndGlyphs"><tspan class="b oR">SM</tspan>:</text>
<text class="s i" x="809.30" y="496.85" textLength="70.5" lengthAdjust="spacingAndGlyphs"><tspan class="bi">8,00</tspan> mdpl</text>
<text class="s i" x="883.60" y="496.85" textLength="9" lengthAdjust="spacingAndGlyphs">≥</text>
<text class="s i" x="897.00" y="496.85" textLength="11.6" lengthAdjust="spacingAndGlyphs">…</text>
</svg>
</body></html>
